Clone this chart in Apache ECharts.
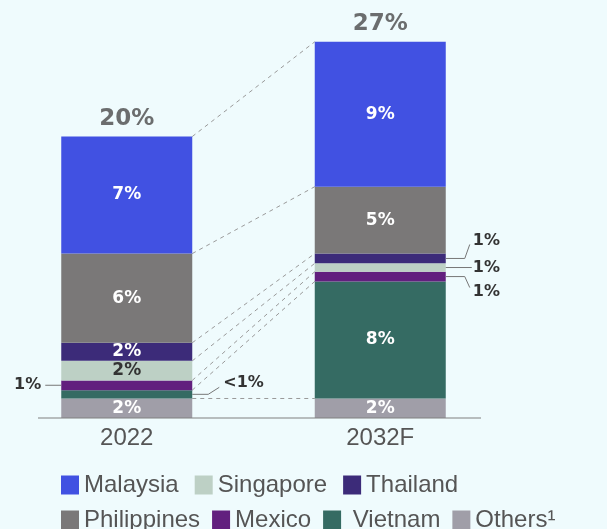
<!DOCTYPE html>
<html>
<head>
<meta charset="utf-8">
<script src="https://cdn.jsdelivr.net/npm/echarts@6/dist/echarts.min.js"></script>
<style>
html, body { margin: 0; padding: 0; background: #effbfd; }
#chart { width: 607px; height: 529px; }
</style>
</head>
<body>
<div id="chart"></div>
<script>
// categories
var years = ['2022', '2032F'];
var totalLabels = ['20%', '27%'];

// shares (% points), stacked bottom -> top
var others = [1.4, 1.4];
var vietnam = [0.6, 8.4];
var mexico = [0.7, 0.7];
var singapore = [1.4, 0.6];
var thailand = [1.3, 0.7];
var philippines = [6.4, 4.8];
var malaysia = [8.4, 10.4];

// printed labels
var othersLabels = ['2%', '2%'];
var vietnamLabels = ['<1%', '8%'];
var mexicoLabels = ['1%', '1%'];
var singaporeLabels = ['2%', '1%'];
var thailandLabels = ['2%', '1%'];
var philippinesLabels = ['6%', '5%'];
var malaysiaLabels = ['7%', '9%'];

var BAR_W = 131;
var BOLD = 'DejaVu Sans';

var stackDefs = [
    { name: 'Others\u00b9', data: others, labels: othersLabels, color: '#a09ea8', inside: [true, true], text: '#fff' },
    { name: 'Vietnam', data: vietnam, labels: vietnamLabels, color: '#356b63', inside: [false, true], text: '#fff' },
    { name: 'Mexico', data: mexico, labels: mexicoLabels, color: '#621f7e', inside: [false, false], text: '#fff' },
    { name: 'Singapore', data: singapore, labels: singaporeLabels, color: '#bdd0c5', inside: [true, false], text: '#333' },
    { name: 'Thailand', data: thailand, labels: thailandLabels, color: '#3c2b79', inside: [true, false], text: '#fff' },
    { name: 'Philippines', data: philippines, labels: philippinesLabels, color: '#7a7878', inside: [true, true], text: '#fff' },
    { name: 'Malaysia', data: malaysia, labels: malaysiaLabels, color: '#4151e2', inside: [true, true], text: '#fff' }
];

// cumulative tops per stack level
var cum = [[], []];
years.forEach(function (y, i) {
    var s = 0;
    stackDefs.forEach(function (d) { s += d.data[i]; cum[i].push(s); });
});
var totals = [cum[0][cum[0].length - 1], cum[1][cum[1].length - 1]];

// dashed connectors between bars at each stack boundary
var connectors = cum[0].map(function (v, k) { return [0, v, 1, cum[1][k]]; });

// outside callouts: which segment, which side, how the leader line bends
var callouts = [
    { level: 2, cat: 0, side: 'left', run: 16, kick: 0, dy: 0, gap: 4 },
    { level: 1, cat: 0, side: 'right', run: 16, kick: 11, dy: -11, gap: 4 },
    { level: 4, cat: 1, side: 'right', run: 19, kick: 5, dy: -18, gap: 3 },
    { level: 3, cat: 1, side: 'right', run: 26, kick: 0, dy: 0, gap: 1 },
    { level: 2, cat: 1, side: 'right', run: 19, kick: 5, dy: 15, gap: 3 }
];
var calloutData = callouts.map(function (c) {
    var top = cum[c.cat][c.level];
    var bottom = top - stackDefs[c.level].data[c.cat];
    return [c.cat, bottom, top];
});

var series = stackDefs.map(function (d) {
    return {
        name: d.name,
        type: 'bar',
        stack: 'total',
        barWidth: BAR_W,
        z: 3,
        itemStyle: { color: d.color },
        data: d.data.map(function (v, i) {
            return { value: v, label: { show: d.inside[i] } };
        }),
        label: {
            position: 'inside',
            color: d.text,
            fontFamily: BOLD,
            fontWeight: 'bold',
            fontSize: 17,
            formatter: function (p) { return d.labels[p.dataIndex]; }
        }
    };
});

series.push({
    type: 'scatter',
    data: totals,
    symbolSize: 0,
    z: 4,
    label: {
        show: true,
        position: 'top',
        distance: 6,
        color: '#4a4a4a',
        fontFamily: BOLD,
        fontWeight: 'bold',
        fontSize: 23,
        formatter: function (p) { return totalLabels[p.dataIndex]; }
    }
});

series.push({
    type: 'custom',
    z: 1,
    clip: false,
    silent: true,
    encode: { x: [0, 2], y: [1, 3] },
    data: connectors,
    renderItem: function (params, api) {
        var a = api.coord([api.value(0), api.value(1)]);
        var b = api.coord([api.value(2), api.value(3)]);
        return {
            type: 'line',
            shape: { x1: a[0] + BAR_W / 2, y1: a[1], x2: b[0] - BAR_W / 2, y2: b[1] },
            style: { stroke: '#9a9a9a', lineWidth: 1, lineDash: [4, 4] }
        };
    }
});

series.push({
    type: 'custom',
    z: 5,
    clip: false,
    silent: true,
    encode: { x: 0, y: [1, 2] },
    data: calloutData,
    renderItem: function (params, api) {
        var c = callouts[params.dataIndex];
        var p0 = api.coord([api.value(0), api.value(1)]);
        var p1 = api.coord([api.value(0), api.value(2)]);
        var y = (p0[1] + p1[1]) / 2;
        var dir = c.side === 'right' ? 1 : -1;
        var x0 = p0[0] + dir * BAR_W / 2;
        var xr = x0 + dir * c.run;
        var xk = xr + dir * c.kick;
        var yk = y + c.dy + (c.dy === 0 ? 0 : (c.dy > 0 ? -4 : 4));
        var pts = [[x0, y], [xr, y]];
        if (c.kick) pts.push([xk, yk]);
        return {
            type: 'group',
            children: [
                {
                    type: 'polyline',
                    shape: { points: pts },
                    style: { stroke: '#777', lineWidth: 1, fill: null }
                },
                {
                    type: 'text',
                    x: xk + dir * c.gap,
                    y: y + c.dy,
                    style: {
                        text: stackDefs[c.level].labels[c.cat],
                        fill: '#333',
                        font: 'bold 16px "DejaVu Sans"',
                        align: c.side === 'right' ? 'left' : 'right',
                        verticalAlign: 'middle'
                    }
                }
            ]
        };
    }
});

var chart = echarts.init(document.getElementById('chart'));
var legendText = { fontSize: 24, color: '#555', fontFamily: 'Liberation Sans' };
chart.setOption({
    backgroundColor: '#effbfd',
    animation: false,
    grid: { left: -3, right: 100, top: 0, bottom: 111, containLabel: false },
    xAxis: {
        type: 'category',
        data: years,
        axisLine: { show: false },
        axisTick: { show: false },
        axisLabel: { fontSize: 24, color: '#555', fontFamily: 'Liberation Sans', margin: 8 }
    },
    yAxis: { type: 'value', min: 0, max: 30, show: false, splitLine: { show: false } },
    legend: [
        {
            data: ['Malaysia', 'Singapore', 'Thailand'],
            left: 61, top: 473, padding: 0,
            icon: 'rect', itemWidth: 18, itemHeight: 19, itemGap: 16,
            textStyle: legendText
        },
        {
            data: ['Philippines', 'Mexico', 'Vietnam', 'Others\u00b9'],
            left: 61, top: 508, padding: 0,
            icon: 'rect', itemWidth: 18, itemHeight: 19, itemGap: 12,
            textStyle: legendText,
            formatter: function (name) { return name === 'Vietnam' ? ' ' + name : name; }
        }
    ],
    graphic: [{
        type: 'line',
        shape: { x1: 38, y1: 418, x2: 481, y2: 418 },
        style: { stroke: '#808080', lineWidth: 1.2 },
        z: 10
    }],
    series: series
});
</script>
</body>
</html>
